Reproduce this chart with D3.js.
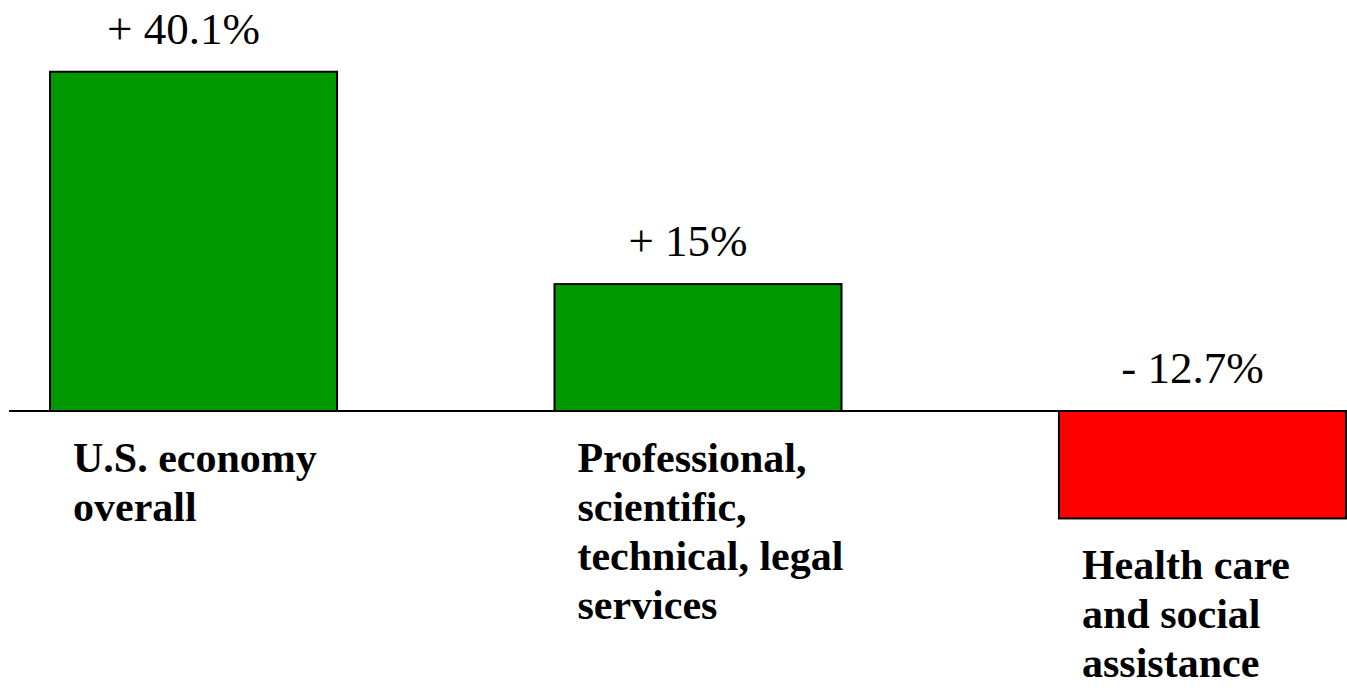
<!DOCTYPE html>
<html>
<head>
<meta charset="utf-8">
<script src="https://cdn.jsdelivr.net/npm/d3@7"></script>
<style>
  html, body { margin: 0; padding: 0; background: #ffffff; }
  svg { display: block; }
</style>
</head>
<body>
<svg id="chart" width="1347" height="688"></svg>
<script>
// Employment change by sector
const categories = ["U.S. economy overall", "Professional, scientific, technical, legal services", "Health care and social assistance"];
const values = [40.1, 15, -12.7];
const valueLabels = ["+ 40.1%", "+ 15%", "- 12.7%"];
const categoryLines = [
  ["U.S. economy", "overall"],
  ["Professional,", "scientific,", "technical, legal", "services"],
  ["Health care", "and social", "assistance"]
];

const width = 1347, height = 688;
const zeroY = 411;
const pxPerUnit = 8.46;
const serif = "'Liberation Serif', 'Times New Roman', serif";

const svg = d3.select("#chart");

const x = d3.scaleBand()
  .domain(categories)
  .range([50, 1346])
  .paddingInner(0.431)
  .paddingOuter(0);

const y = d3.scaleLinear()
  .domain([-20, 45])
  .range([zeroY + 20 * pxPerUnit, zeroY - 45 * pxPerUnit]);

const colorFor = v => v >= 0 ? "#009900" : "#ff0000";

// zero line
svg.append("line")
  .attr("x1", 9).attr("x2", width)
  .attr("y1", y(0)).attr("y2", y(0))
  .attr("stroke", "#000").attr("stroke-width", 2);

const data = categories.map((c, i) => ({ c, v: values[i], label: valueLabels[i], lines: categoryLines[i] }));

// bars
svg.selectAll("rect.bar")
  .data(data)
  .join("rect")
  .attr("class", "bar")
  .attr("x", d => x(d.c))
  .attr("width", x.bandwidth())
  .attr("y", d => y(Math.max(0, d.v)))
  .attr("height", d => Math.abs(y(d.v) - y(0)))
  .attr("fill", d => colorFor(d.v))
  .attr("stroke", "#000")
  .attr("stroke-width", 2);

// value labels above the bar (or above the zero line for negatives)
svg.selectAll("text.value")
  .data(data)
  .join("text")
  .attr("class", "value")
  .attr("x", d => x(d.c) + x.bandwidth() / 2 - 10)
  .attr("y", d => y(Math.max(0, d.v)) - 28)
  .attr("text-anchor", "middle")
  .attr("font-family", serif)
  .attr("font-size", 45)
  .attr("fill", "#000")
  .text(d => d.label);

// category labels below the bar
const catText = svg.selectAll("text.cat")
  .data(data)
  .join("text")
  .attr("class", "cat")
  .attr("x", d => x(d.c) + 23)
  .attr("y", d => y(Math.min(0, d.v)) + 61)
  .attr("font-family", serif)
  .attr("font-size", 42)
  .attr("font-weight", "bold")
  .attr("fill", "#000");

catText.selectAll("tspan")
  .data(d => d.lines.map(l => ({ l, x: x(d.c) + 23 })))
  .join("tspan")
  .attr("x", t => t.x)
  .attr("dy", (t, i) => i === 0 ? 0 : 49)
  .text(t => t.l);
</script>
</body>
</html>
